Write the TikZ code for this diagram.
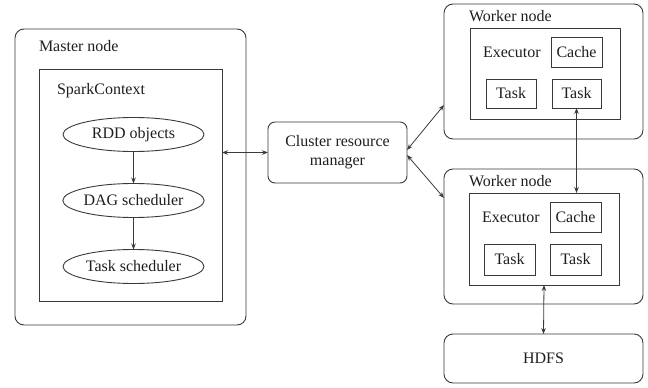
\documentclass[tikz,border=0pt]{standalone}
\usepackage{fontspec}
\setmainfont{Liberation Serif}
\newfontfamily\tnrfont{Liberation Serif}
\usetikzlibrary{arrows.meta,shapes.geometric,calc}
\definecolor{linec}{HTML}{3A3A3A}
\definecolor{textc}{HTML}{1E1E1E}
\tikzset{
  base/.style={draw=linec, line width=0.9pt, inner sep=0pt, outer sep=0pt, anchor=north west, text=textc},
  sqbox/.style={base},
  rbox/.style={base, rounded corners=9pt},
  oval/.style={draw=linec, line width=0.9pt, ellipse, inner sep=0pt, outer sep=0pt, minimum width=141pt, minimum height=34pt, text=textc},
  lbl/.style={anchor=west, inner sep=0pt, outer sep=0pt, text=textc},
  conn/.style={draw=linec, line width=0.8pt, {Stealth[length=6pt,width=4.5pt]}-{Stealth[length=6pt,width=4.5pt]}},
  conn1/.style={draw=linec, line width=0.8pt, -{Stealth[length=6pt,width=4.5pt]}},
}
\begin{document}
\begin{tikzpicture}[x=1pt,y=-1pt,font=\tnrfont\fontsize{16}{19}\selectfont]
\useasboundingbox (0,0) rectangle (648,388);
% Master
\node[rbox, minimum width=231pt, minimum height=296pt] (master) at (15,29) {};
\node[lbl] (masterl) at (39,46) {Master node};
\node[sqbox, minimum width=183pt, minimum height=232pt] (spark) at (39,69) {};
\node[lbl] (sparkl) at (57,91) {SparkContext};
\node[oval] (rdd) at (133.5,134.5) {RDD objects};
\node[oval] (dag) at (133.5,200.5) {DAG scheduler};
\node[oval] (tsch) at (133.5,266.5) {Task scheduler};
\draw[conn1] (rdd) -- (dag);
\draw[conn1] (dag) -- (tsch);
% Cluster
\node[rbox, rounded corners=7pt, minimum width=139pt, minimum height=61pt, align=center] (cluster) at (268,122) {};
\node[align=center, inner sep=0pt, text=textc] (clusterl) at (cluster.center) {Cluster resource\\manager};
% Worker 1
\node[rbox, minimum width=199pt, minimum height=135pt] (w1) at (444,4) {};
\node[lbl] (w1l) at (469,16) {Worker node};
\node[sqbox, minimum width=150pt, minimum height=91pt] (ex1) at (470,28) {};
\node[lbl] (ex1l) at (483,52) {Executor};
\node[sqbox, minimum width=51pt, minimum height=30pt] (c1) at (551,37) {};
\node[inner sep=0pt, text=textc] at (c1.center) {Cache};
\node[sqbox, minimum width=50pt, minimum height=29pt] (t1a) at (486,79) {};
\node[inner sep=0pt, text=textc] at (t1a.center) {Task};
\node[sqbox, minimum width=49pt, minimum height=29pt] (t1b) at (552,79) {};
\node[inner sep=0pt, text=textc] at (t1b.center) {Task};
% Worker 2
\node[rbox, minimum width=199pt, minimum height=135pt] (w2) at (444,169) {};
\node[lbl] (w2l) at (469,181) {Worker node};
\node[sqbox, minimum width=150pt, minimum height=92pt] (ex2) at (469,193) {};
\node[lbl] (ex2l) at (482,217) {Executor};
\node[sqbox, minimum width=51pt, minimum height=30pt] (c2) at (550,202) {};
\node[inner sep=0pt, text=textc] at (c2.center) {Cache};
\node[sqbox, minimum width=51pt, minimum height=31pt] (t2a) at (484,244) {};
\node[inner sep=0pt, text=textc] at (t2a.center) {Task};
\node[sqbox, minimum width=51pt, minimum height=31pt] (t2b) at (550,244) {};
\node[inner sep=0pt, text=textc] at (t2b.center) {Task};
% HDFS
\node[rbox, minimum width=199pt, minimum height=49pt] (hdfs) at (444,334) {};
\node[inner sep=0pt, text=textc] at (hdfs.center) {HDFS};
% connectors
\draw[conn] (spark.east |- cluster.west) -- (cluster.west);
\draw[conn] ([yshift=2.5pt]cluster.east) -- ([yshift=34pt]w1.south west);
\draw[conn] ([yshift=-2.5pt]cluster.east) -- ([yshift=-29pt]w2.north west);
\draw[conn] (t1b.south) -- (t1b.south |- ex2.north);
\draw[conn] (ex2.south) -- (hdfs.north);
\end{tikzpicture}
\end{document}
